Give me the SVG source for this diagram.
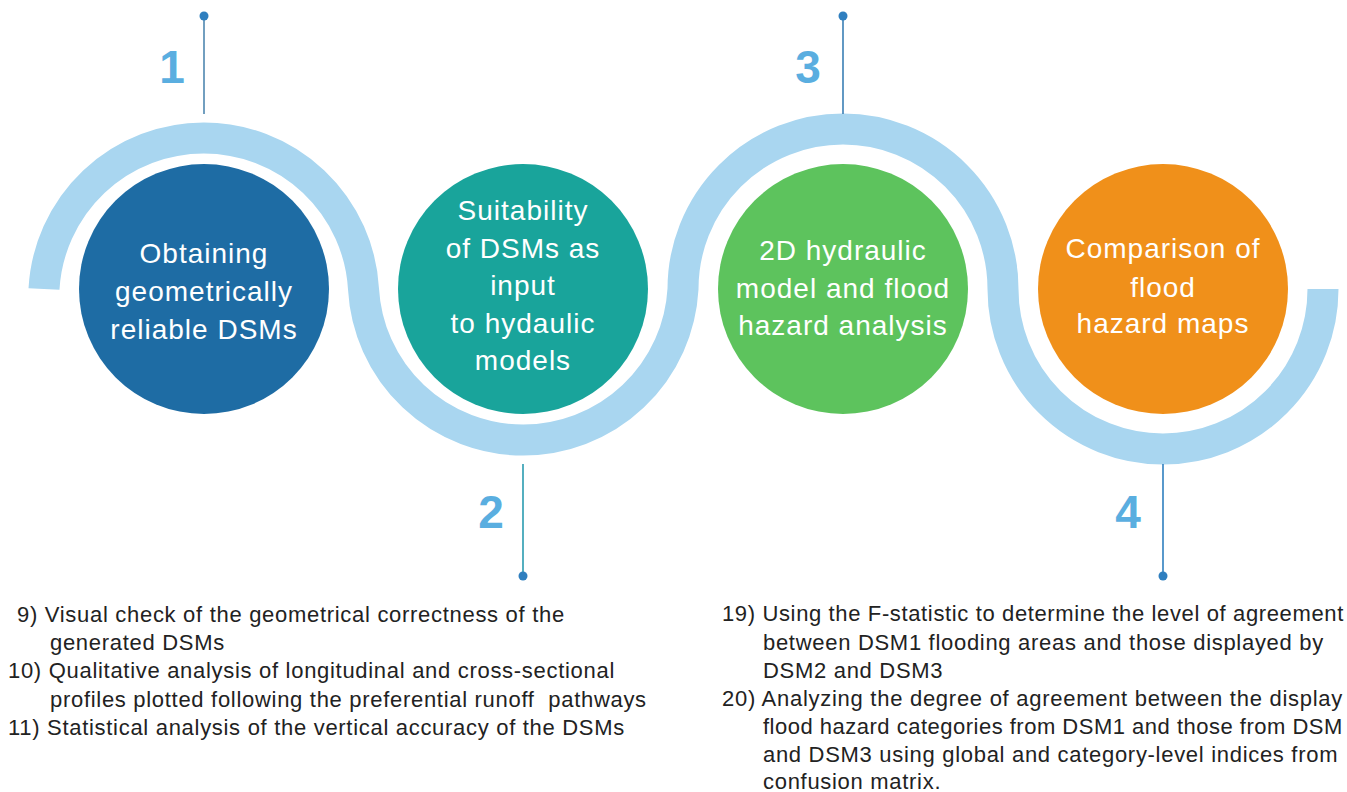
<svg xmlns="http://www.w3.org/2000/svg" width="1347" height="792" viewBox="0 0 1347 792">
  <style>
    .band { fill: none; stroke: #a9d6f0; stroke-width: 31; stroke-linecap: butt; }
    .step { font-family: "Liberation Sans", Arial, sans-serif; font-size: 28px; letter-spacing: 1px; fill: #ffffff; text-anchor: middle; }
    .num { font-family: "Liberation Sans", Arial, sans-serif; font-size: 46px; font-weight: bold; fill: #5aaee0; text-anchor: middle; }
    .lead { stroke-width: 1.6; fill: none; }
    .dot { fill: #2f7fbf; }
    .note { font-family: "Liberation Sans", Arial, sans-serif; font-size: 22px; letter-spacing: 0.7px; fill: #222222; }
  </style>

  <rect x="0" y="0" width="1347" height="792" fill="#ffffff"/>

  <!-- wavy ribbon running through the four stages -->
  <g id="wave">
    <path class="band" d="M 44 289 A 160 160 0 0 1 363.5 289 A 160 160 0 0 0 683 289 A 160 160 0 0 1 1003 289 A 160 160 0 0 0 1323 289"/>
  </g>

  <!-- leader lines with end dots -->
  <g id="connectors">
    <line class="lead" x1="204" y1="16" x2="204" y2="114" stroke="#4f87b0"/>
    <circle class="dot" cx="204" cy="16" r="4.5"/>
    <line class="lead" x1="523" y1="464" x2="523" y2="576" stroke="#2a9bb0"/>
    <circle class="dot" cx="523" cy="576" r="4.5"/>
    <line class="lead" x1="843" y1="16" x2="843" y2="114" stroke="#3a7fb5"/>
    <circle class="dot" cx="843" cy="16" r="4.5"/>
    <line class="lead" x1="1163" y1="464" x2="1163" y2="576" stroke="#2f7fbf"/>
    <circle class="dot" cx="1163" cy="576" r="4.5"/>
  </g>

  <!-- stage 1 -->
  <g id="node-1">
    <circle cx="204" cy="289" r="125" fill="#1e6ca4"/>
    <text class="step" x="204" y="263">Obtaining</text>
    <text class="step" x="204" y="301">geometrically</text>
    <text class="step" x="204" y="339">reliable DSMs</text>
    <text class="num" x="172" y="83">1</text>
  </g>

  <!-- stage 2 -->
  <g id="node-2">
    <circle cx="523" cy="289" r="125" fill="#19a49b"/>
    <text class="step" x="523" y="220">Suitability</text>
    <text class="step" x="523" y="258">of DSMs as</text>
    <text class="step" x="523" y="295">input</text>
    <text class="step" x="523" y="333">to hydaulic</text>
    <text class="step" x="523" y="370">models</text>
    <text class="num" x="491" y="528">2</text>
  </g>

  <!-- stage 3 -->
  <g id="node-3">
    <circle cx="843" cy="289" r="125" fill="#5dc35d"/>
    <text class="step" x="843" y="260">2D hydraulic</text>
    <text class="step" x="843" y="298">model and flood</text>
    <text class="step" x="843" y="335">hazard analysis</text>
    <text class="num" x="808" y="83">3</text>
  </g>

  <!-- stage 4 -->
  <g id="node-4">
    <circle cx="1163" cy="289" r="125" fill="#f0901a"/>
    <text class="step" x="1163" y="258">Comparison of</text>
    <text class="step" x="1163" y="297">flood</text>
    <text class="step" x="1163" y="333">hazard maps</text>
    <text class="num" x="1128" y="528">4</text>
  </g>

  <!-- task list for stages 1-2 -->
  <g id="notes-left">
    <text class="note" x="17" y="622">9) Visual check of the geometrical correctness of the</text>
    <text class="note" x="50" y="650">generated DSMs</text>
    <text class="note" x="8" y="678">10) Qualitative analysis of longitudinal and cross-sectional</text>
    <text class="note" x="50" y="707" xml:space="preserve">profiles plotted following the preferential runoff  pathways</text>
    <text class="note" x="8" y="735">11) Statistical analysis of the vertical accuracy of the DSMs</text>
  </g>

  <!-- task list for stages 3-4 -->
  <g id="notes-right">
    <text class="note" x="722" y="621" textLength="622" lengthAdjust="spacing">19) Using the F-statistic to determine the level of agreement</text>
    <text class="note" x="763" y="650">between DSM1 flooding areas and those displayed by</text>
    <text class="note" x="763" y="678">DSM2 and DSM3</text>
    <text class="note" x="722" y="706" textLength="621" lengthAdjust="spacing">20) Analyzing the degree of agreement between the display</text>
    <text class="note" x="763" y="734" textLength="580" lengthAdjust="spacing">flood hazard categories from DSM1 and those from DSM</text>
    <text class="note" x="763" y="762">and DSM3 using global and category-level indices from</text>
    <text class="note" x="763" y="789">confusion matrix.</text>
  </g>
</svg>
